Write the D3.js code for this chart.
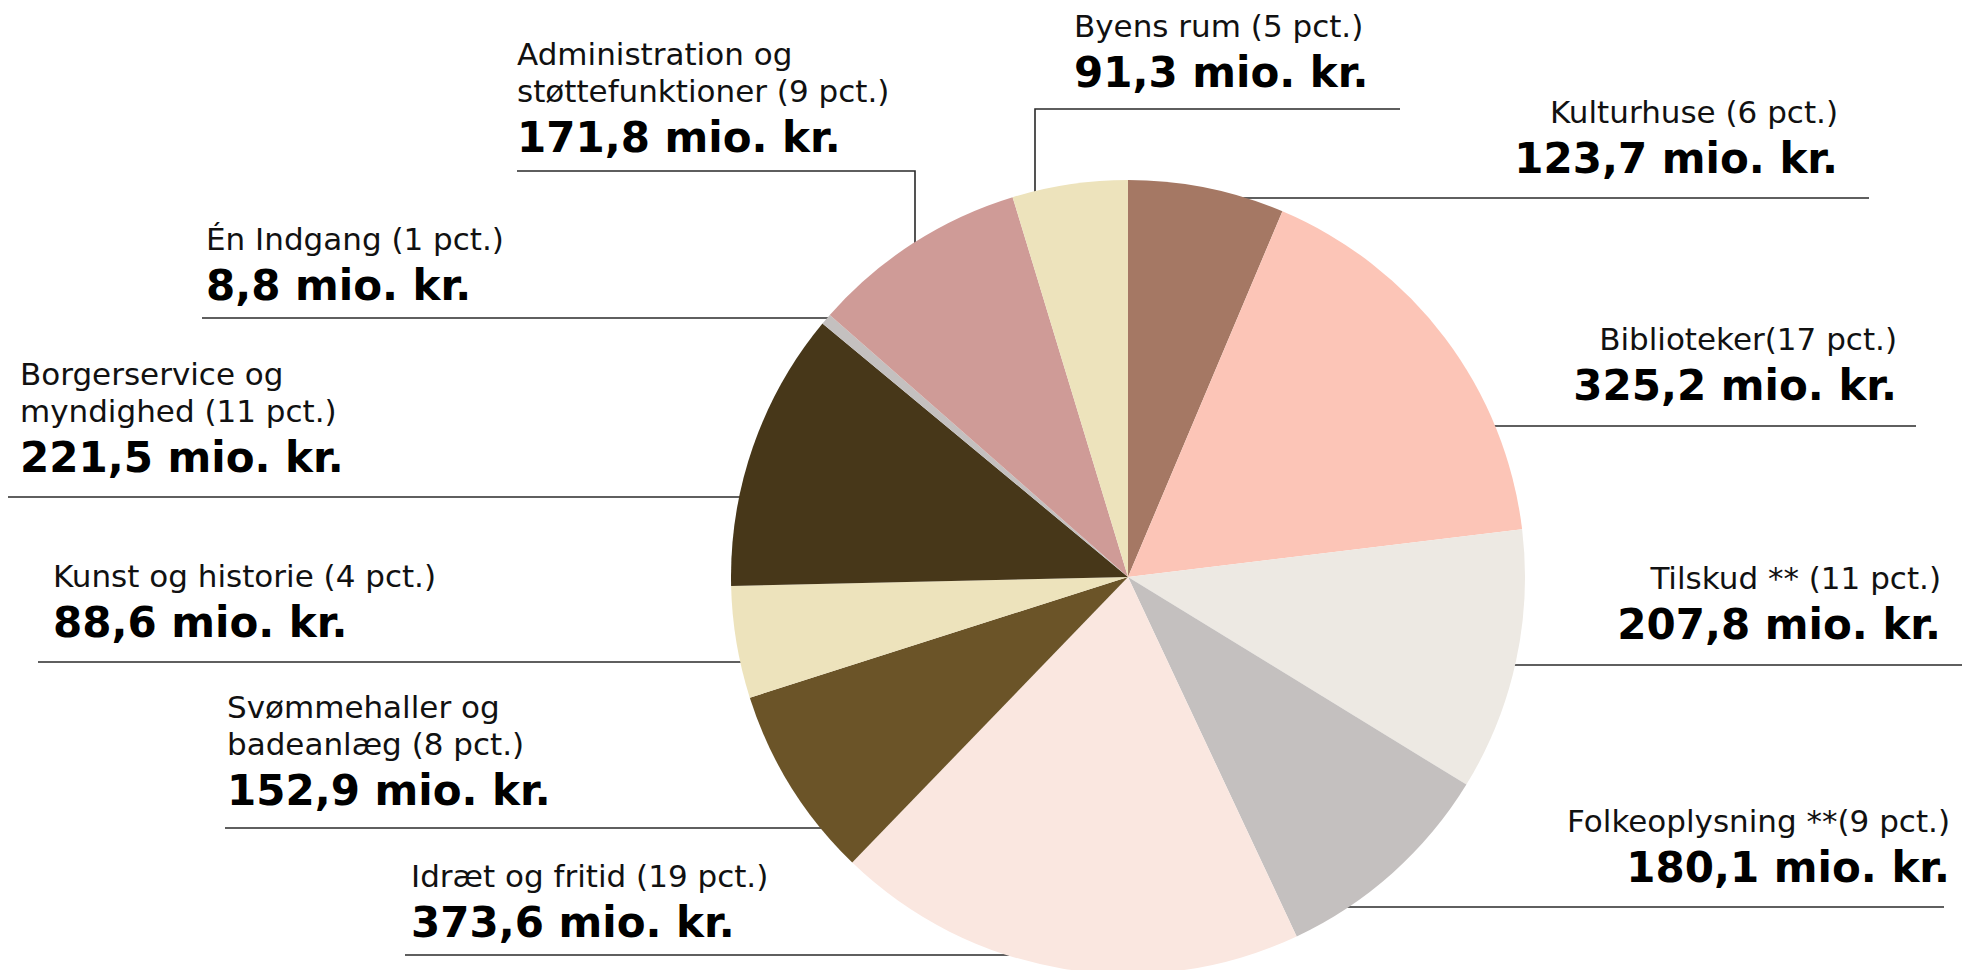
<!DOCTYPE html>
<html>
<head>
<meta charset="utf-8">
<script src="https://cdn.jsdelivr.net/npm/d3@7"></script>
<style>
  html, body { margin: 0; padding: 0; background: #fff; }
  svg text { font-family: "DejaVu Sans", sans-serif; fill: #111; }
  svg text.amount { fill: #000; }
</style>
</head>
<body>
<div id="chart"></div>
<script>
// Categories in pie order, clockwise from 12 o'clock.
var categories = [
  "Kulturhuse", "Biblioteker", "Tilskud **", "Folkeoplysning **",
  "Idræt og fritid", "Svømmehaller og badeanlæg", "Kunst og historie",
  "Borgerservice og myndighed", "Én Indgang",
  "Administration og støttefunktioner", "Byens rum"
];
// Budget, mio. kr.
var values = [123.7, 325.2, 207.8, 180.1, 373.6, 152.9, 88.6, 221.5, 8.8, 171.8, 91.3];
// Share as printed in the source (pct.)
var pcts = [6, 17, 11, 9, 19, 8, 4, 11, 1, 9, 5];
var colors = [
  "#a57864", "#fcc5b7", "#ede9e3", "#c4c0bf", "#fae7e0", "#6b5428",
  "#ede3bc", "#473719", "#c4c0bf", "#cf9b97", "#ede3bc"
];

// Label placement (first baseline, anchor, leader line).
var labelLayout = {
  "Kulturhuse":        { x: 1838, y: 123, anchor: "end",   leaderY: 198, outerX: 1869 },
  "Biblioteker":       { x: 1897, y: 350, anchor: "end",   leaderY: 426, outerX: 1916, gap: "" },
  "Tilskud **":        { x: 1941, y: 589, anchor: "end",   leaderY: 665, outerX: 1962 },
  "Folkeoplysning **": { x: 1950, y: 832, anchor: "end",   leaderY: 907, outerX: 1944, gap: "" },
  "Idræt og fritid":   { x: 411,  y: 887, anchor: "start", leaderY: 955, outerX: 405 },
  "Svømmehaller og badeanlæg": { x: 227, y: 718, anchor: "start", leaderY: 828, outerX: 225, split: "Svømmehaller og" },
  "Kunst og historie": { x: 53,   y: 587, anchor: "start", leaderY: 662, outerX: 38 },
  "Borgerservice og myndighed": { x: 20, y: 385, anchor: "start", leaderY: 497, outerX: 8, split: "Borgerservice og" },
  "Én Indgang":        { x: 206,  y: 250, anchor: "start", leaderY: 318, outerX: 202 },
  "Administration og støttefunktioner": { x: 517, y: 65, anchor: "start", leaderY: 171, outerX: 517, dropX: 915, split: "Administration og" },
  "Byens rum":         { x: 1074, y: 37, anchor: "start", leaderY: 109, outerX: 1400, dropX: 1035 }
};

var width = 1962, height = 970,
  cx = 1128, cy = 577, radius = 397,
  lineGap = 37, boldGap = 50;

var locale = d3.formatLocale({ decimal: ",", thousands: ".", grouping: [3], currency: ["", " kr."] });
var fmt = locale.format(".1f");

var data = categories.map(function(c, i) {
  return { name: c, value: values[i], pct: pcts[i], color: colors[i] };
});

var svg = d3.select("#chart").append("svg")
  .attr("width", width)
  .attr("height", height);

var pie = d3.pie().sort(null).value(function(d) { return d.value; });
var arc = d3.arc().innerRadius(0).outerRadius(radius);
var arcs = pie(data);

// Leader lines go under the pie, ending on its rim.
var leaders = svg.append("g").attr("class", "leaders");
arcs.forEach(function(a) {
  var L = labelLayout[a.data.name];
  var pts;
  if (L.dropX !== undefined) {
    var edgeY = cy - Math.sqrt(radius * radius - (L.dropX - cx) * (L.dropX - cx)) + 3;
    pts = [[L.outerX, L.leaderY], [L.dropX, L.leaderY], [L.dropX, edgeY]];
  } else {
    var dx = Math.sqrt(radius * radius - (L.leaderY - cy) * (L.leaderY - cy)) - 3;
    var edgeX = L.anchor === "end" ? cx + dx : cx - dx;
    pts = [[L.outerX, L.leaderY], [edgeX, L.leaderY]];
  }
  leaders.append("path")
    .attr("d", d3.line()(pts))
    .attr("fill", "none")
    .attr("stroke", "#2a2a2a")
    .attr("stroke-width", 1.6);
});

svg.append("g")
  .attr("transform", "translate(" + cx + "," + cy + ")")
  .selectAll("path")
  .data(arcs)
  .enter().append("path")
    .attr("d", arc)
    .attr("fill", function(d) { return d.data.color; });

// Labels.
var labels = svg.append("g").attr("class", "labels");
data.forEach(function(d) {
  var L = labelLayout[d.name];
  var gap = L.gap === undefined ? " " : L.gap;
  var lines;
  if (L.split) {
    lines = [L.split, d.name.slice(L.split.length + 1) + " (" + d.pct + " pct.)"];
  } else {
    lines = [d.name + gap + "(" + d.pct + " pct.)"];
  }
  var g = labels.append("g");
  lines.forEach(function(t, i) {
    g.append("text")
      .attr("x", L.x)
      .attr("y", L.y + i * lineGap)
      .attr("text-anchor", L.anchor)
      .style("font-size", "31px")
      .text(t);
  });
  g.append("text")
    .attr("class", "amount")
    .attr("x", L.x)
    .attr("y", L.y + (lines.length - 1) * lineGap + boldGap)
    .attr("text-anchor", L.anchor)
    .style("font-size", "42px")
    .style("font-weight", "bold")
    .text(fmt(d.value) + " mio. kr.");
});
</script>
</body>
</html>
